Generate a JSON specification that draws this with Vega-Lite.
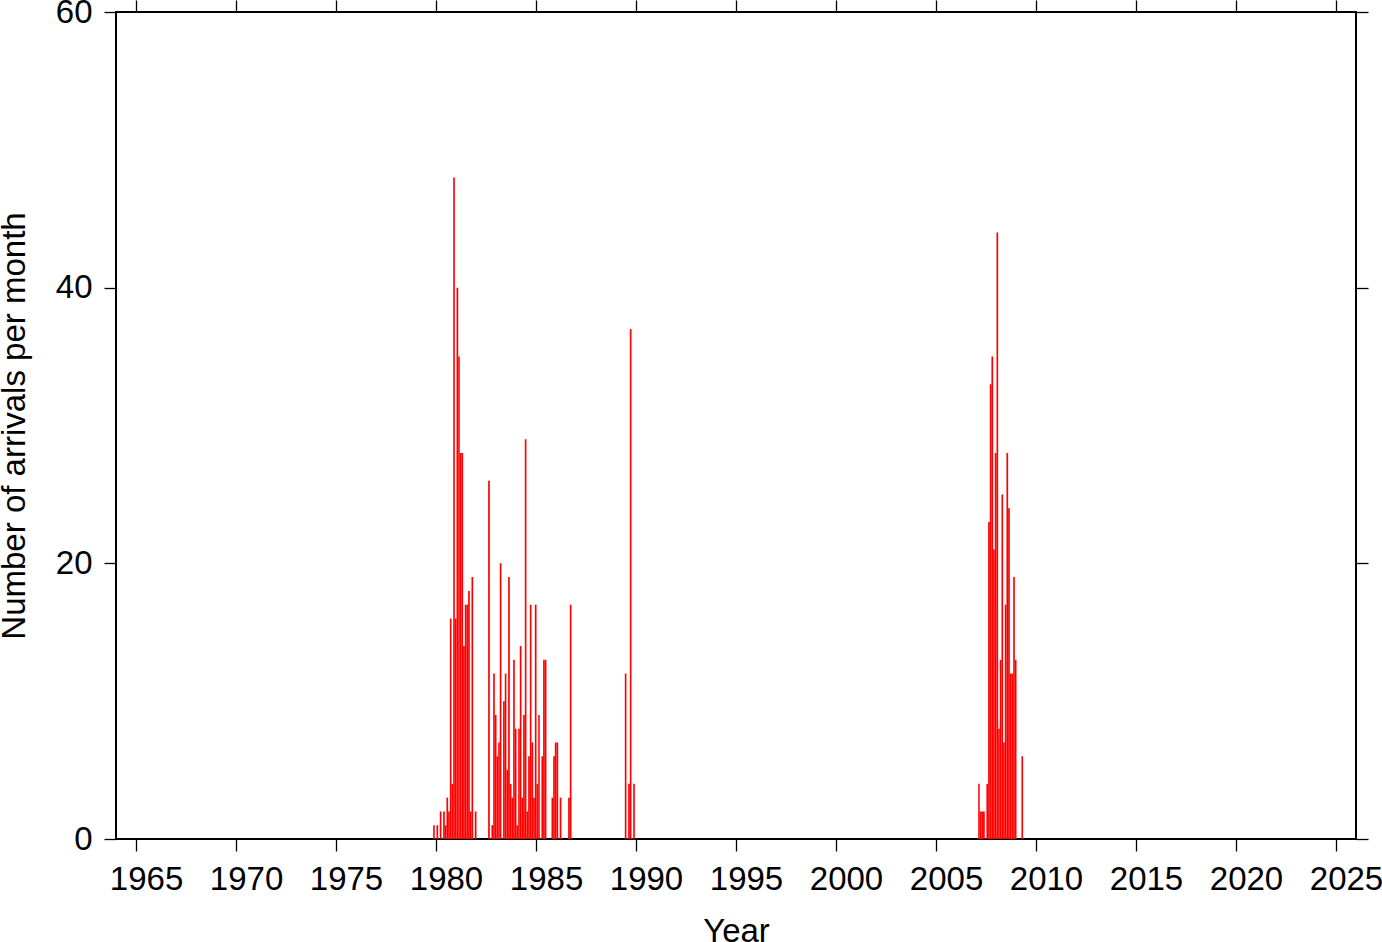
{
  "$schema": "https://vega.github.io/schema/vega-lite/v6.json",
  "width": 1240,
  "height": 827,
  "autosize": "none",
  "padding": {"left": 116, "top": 12, "right": 26, "bottom": 103},
  "background": "white",
  "config": {
    "view": {"stroke": "black", "strokeWidth": 2},
    "font": "Liberation Sans",
    "axis": {"grid": false, "domain": false, "tickColor": "black", "tickWidth": 1.3, "tickSize": 12, "labelColor": "black", "titleColor": "black", "labelFont": "Liberation Sans", "titleFont": "Liberation Sans", "labelFontWeight": "normal", "titleFontWeight": "normal"}
  },
  "data": {"values": [
    {"month": "1979-11-01", "n": 1},
    {"month": "1980-01-01", "n": 1},
    {"month": "1980-03-01", "n": 2},
    {"month": "1980-05-01", "n": 2},
    {"month": "1980-06-01", "n": 1},
    {"month": "1980-07-01", "n": 3},
    {"month": "1980-08-01", "n": 2},
    {"month": "1980-09-01", "n": 16},
    {"month": "1980-10-01", "n": 4},
    {"month": "1980-11-01", "n": 48},
    {"month": "1980-12-01", "n": 16},
    {"month": "1981-01-01", "n": 40},
    {"month": "1981-02-01", "n": 35},
    {"month": "1981-03-01", "n": 28},
    {"month": "1981-04-01", "n": 28},
    {"month": "1981-05-01", "n": 14},
    {"month": "1981-06-01", "n": 17},
    {"month": "1981-07-01", "n": 17},
    {"month": "1981-08-01", "n": 18},
    {"month": "1981-09-01", "n": 2},
    {"month": "1981-10-01", "n": 19},
    {"month": "1981-12-01", "n": 2},
    {"month": "1982-08-01", "n": 26},
    {"month": "1982-10-01", "n": 1},
    {"month": "1982-11-01", "n": 12},
    {"month": "1982-12-01", "n": 9},
    {"month": "1983-01-01", "n": 6},
    {"month": "1983-02-01", "n": 7},
    {"month": "1983-03-01", "n": 20},
    {"month": "1983-05-01", "n": 10},
    {"month": "1983-06-01", "n": 12},
    {"month": "1983-07-01", "n": 5},
    {"month": "1983-08-01", "n": 19},
    {"month": "1983-09-01", "n": 4},
    {"month": "1983-10-01", "n": 3},
    {"month": "1983-11-01", "n": 13},
    {"month": "1983-12-01", "n": 8},
    {"month": "1984-01-01", "n": 1},
    {"month": "1984-02-01", "n": 8},
    {"month": "1984-03-01", "n": 14},
    {"month": "1984-04-01", "n": 3},
    {"month": "1984-05-01", "n": 9},
    {"month": "1984-06-01", "n": 29},
    {"month": "1984-07-01", "n": 2},
    {"month": "1984-08-01", "n": 6},
    {"month": "1984-09-01", "n": 17},
    {"month": "1984-10-01", "n": 7},
    {"month": "1984-11-01", "n": 3},
    {"month": "1984-12-01", "n": 17},
    {"month": "1985-01-01", "n": 4},
    {"month": "1985-02-01", "n": 9},
    {"month": "1985-04-01", "n": 6},
    {"month": "1985-05-01", "n": 13},
    {"month": "1985-06-01", "n": 13},
    {"month": "1985-10-01", "n": 3},
    {"month": "1985-11-01", "n": 6},
    {"month": "1985-12-01", "n": 7},
    {"month": "1986-01-01", "n": 7},
    {"month": "1986-03-01", "n": 3},
    {"month": "1986-08-01", "n": 3},
    {"month": "1986-09-01", "n": 17},
    {"month": "1989-06-01", "n": 12},
    {"month": "1989-08-01", "n": 4},
    {"month": "1989-09-01", "n": 37},
    {"month": "1989-11-01", "n": 4},
    {"month": "2007-02-01", "n": 4},
    {"month": "2007-03-01", "n": 2},
    {"month": "2007-04-01", "n": 2},
    {"month": "2007-05-01", "n": 2},
    {"month": "2007-07-01", "n": 4},
    {"month": "2007-08-01", "n": 23},
    {"month": "2007-09-01", "n": 33},
    {"month": "2007-10-01", "n": 35},
    {"month": "2007-11-01", "n": 21},
    {"month": "2007-12-01", "n": 28},
    {"month": "2008-01-01", "n": 44},
    {"month": "2008-02-01", "n": 8},
    {"month": "2008-03-01", "n": 13},
    {"month": "2008-04-01", "n": 25},
    {"month": "2008-05-01", "n": 7},
    {"month": "2008-06-01", "n": 17},
    {"month": "2008-07-01", "n": 28},
    {"month": "2008-08-01", "n": 24},
    {"month": "2008-09-01", "n": 12},
    {"month": "2008-10-01", "n": 12},
    {"month": "2008-11-01", "n": 19},
    {"month": "2008-12-01", "n": 13},
    {"month": "2009-04-01", "n": 6}
  ]},
  "layer": [
    {
      "mark": {"type": "bar", "color": "#ff0000", "binSpacing": 0},
      "encoding": {
        "x": {
          "field": "month", "type": "temporal", "timeUnit": "utcyearmonth",
          "scale": {"domain": [{"year": 1964, "month": 1, "date": 1, "utc": true}, {"year": 2026, "month": 1, "date": 1, "utc": true}]},
          "axis": {
            "orient": "bottom", "title": "Year", "format": "%Y",
            "values": [
              {"year": 1965, "utc": true}, {"year": 1970, "utc": true}, {"year": 1975, "utc": true}, {"year": 1980, "utc": true},
              {"year": 1985, "utc": true}, {"year": 1990, "utc": true}, {"year": 1995, "utc": true}, {"year": 2000, "utc": true},
              {"year": 2005, "utc": true}, {"year": 2010, "utc": true}, {"year": 2015, "utc": true}, {"year": 2020, "utc": true},
              {"year": 2025, "utc": true}
            ],
            "labelFontSize": 33, "labelPadding": 12, "labelOffset": 10, "labelFlush": false, "labelOverlap": false,
            "titleFontSize": 33, "titlePadding": 19
          }
        },
        "y": {
          "field": "n", "type": "quantitative",
          "scale": {"domain": [0, 60], "nice": false, "zero": true},
          "axis": {
            "orient": "left", "title": "Number of arrivals per month", "values": [0, 20, 40, 60],
            "labelFontSize": 33, "labelPadding": 12, "labelFlush": false, "labelOverlap": false,
            "titleFontSize": 33, "titlePadding": 24
          }
        }
      }
    },
    {
      "mark": {"type": "bar", "opacity": 0, "binSpacing": 0},
      "encoding": {
        "x": {
          "field": "month", "type": "temporal", "timeUnit": "utcyearmonth",
          "axis": {
            "orient": "top", "title": null, "labels": false,
            "values": [
              {"year": 1965, "utc": true}, {"year": 1970, "utc": true}, {"year": 1975, "utc": true}, {"year": 1980, "utc": true},
              {"year": 1985, "utc": true}, {"year": 1990, "utc": true}, {"year": 1995, "utc": true}, {"year": 2000, "utc": true},
              {"year": 2005, "utc": true}, {"year": 2010, "utc": true}, {"year": 2015, "utc": true}, {"year": 2020, "utc": true},
              {"year": 2025, "utc": true}
            ]
          }
        },
        "y": {
          "field": "n", "type": "quantitative",
          "axis": {"orient": "right", "title": null, "labels": false, "values": [0, 20, 40, 60]}
        }
      }
    }
  ],
  "resolve": {"axis": {"x": "independent", "y": "independent"}}
}
